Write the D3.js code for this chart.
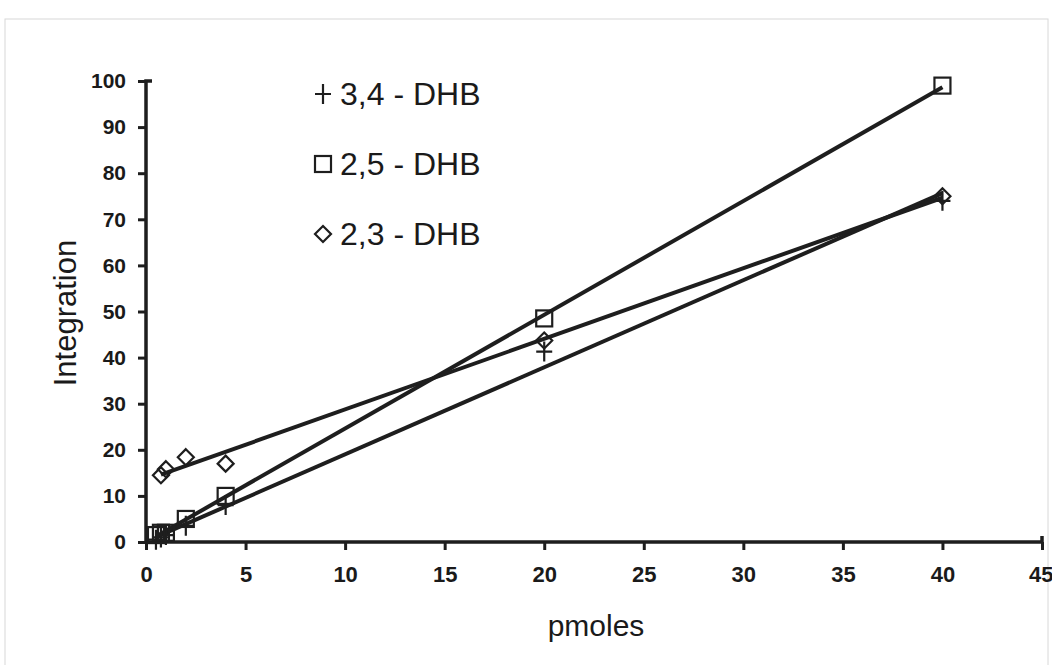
<!DOCTYPE html>
<meta charset="utf-8">
<style>
  body { margin: 0; background: #fff; }
  svg { font-family: "Liberation Sans", Arial, sans-serif; }
  .tick text { font-weight: bold; fill: #1a1a1a; }
  .fit { fill: none; stroke: #1e1e1e; stroke-width: 4; }
  .mark { fill: none; stroke: #1e1e1e; stroke-width: 2.2; }
</style>
<svg width="1052" height="665"></svg>
<script src="https://cdn.jsdelivr.net/npm/d3@7"></script>
<script>

  // pmoles vs integration
  var pmoles34 = [0.5, 0.75, 1, 2, 4, 20, 40];
  var integ34 = [0.5, 1, 1.5, 3.5, 8, 41.3, 74];

  var pmoles25 = [0.5, 0.75, 1, 2, 4, 20, 40];
  var integ25 = [1.5, 2, 2, 5, 10, 48.5, 99];

  var pmoles23 = [0.75, 1, 2, 4, 20, 40];
  var integ23 = [14.5, 15.8, 18.4, 17, 43.7, 75];

  var seriesNames = ["3,4 - DHB", "2,5 - DHB", "2,3 - DHB"];
  var xTicks = [0, 5, 10, 15, 20, 25, 30, 35, 40, 45];
  var yTicks = [0, 10, 20, 30, 40, 50, 60, 70, 80, 90, 100];

  var svg = d3.select("svg");

  // faint scan frame
  svg.append("rect")
    .attr("x", 5).attr("y", 19)
    .attr("width", 1043).attr("height", 660)
    .attr("fill", "none")
    .attr("stroke", "#d8d8d8");

  var x = d3.scaleLinear().domain([0, 45]).range([146, 1042]);
  var y = d3.scaleLinear().domain([0, 100]).range([542, 81]);

  // axes
  var xAxis = svg.append("g")
    .attr("transform", "translate(0," + y(0) + ")")
    .call(d3.axisBottom(x).tickValues(xTicks).tickSize(8).tickPadding(16));
  xAxis.selectAll("text").style("font-size", "22px");
  // last label sits right on the page edge
  xAxis.selectAll("text").filter(function (d) { return d === 45; })
    .attr("text-anchor", "end").attr("dx", 11);

  var yAxis = svg.append("g")
    .attr("transform", "translate(" + x(0) + ",0)")
    .call(d3.axisLeft(y).tickValues(yTicks).tickSize(8).tickPadding(12));
  yAxis.selectAll("text").style("font-size", "21px");

  svg.selectAll(".domain").attr("stroke", "#1e1e1e").attr("stroke-width", 3.5);
  svg.selectAll(".tick line").attr("stroke", "#1e1e1e").attr("stroke-width", 3);
  // drop the outer ends d3 adds to the domain path
  xAxis.select(".domain").attr("d", "M" + x(0) + ",0H" + x(45) + "V-6");
  yAxis.select(".domain").attr("d", "M0," + y(0) + "V" + y(100) + "H6");

  // least squares trend lines, as in the original spreadsheet chart
  function fit(xs, ys) {
    var mx = d3.mean(xs), my = d3.mean(ys);
    var sxy = d3.sum(xs, function (v, i) { return (v - mx) * (ys[i] - my); });
    var sxx = d3.sum(xs, function (v) { return (v - mx) * (v - mx); });
    var b = sxy / sxx, a = my - b * mx;
    var x0 = d3.min(xs), x1 = d3.max(xs);
    return [[x0, a + b * x0], [x1, a + b * x1]];
  }

  var line = d3.line()
    .x(function (d) { return x(d[0]); })
    .y(function (d) { return y(d[1]); });

  var series = [
    { xs: pmoles34, ys: integ34, shape: "cross" },
    { xs: pmoles25, ys: integ25, shape: "square" },
    { xs: pmoles23, ys: integ23, shape: "diamond" }
  ];

  series.forEach(function (s) {
    svg.append("path")
      .attr("class", "fit")
      .attr("d", line(fit(s.xs, s.ys)));
  });

  function marker(g, shape) {
    if (shape === "square") {
      g.append("rect").attr("class", "mark")
        .attr("x", -8).attr("y", -8).attr("width", 16).attr("height", 16);
    } else if (shape === "diamond") {
      g.append("path").attr("class", "mark")
        .attr("d", "M0,-8L8,0L0,8L-8,0Z");
    } else {
      g.append("path").attr("class", "mark")
        .attr("d", "M0,-10V10M-8,0H8");
    }
  }

  series.forEach(function (s) {
    s.xs.forEach(function (v, i) {
      var g = svg.append("g")
        .attr("transform", "translate(" + x(v) + "," + y(s.ys[i]) + ")");
      marker(g, s.shape);
    });
  });

  // legend
  var legend = svg.append("g");
  seriesNames.forEach(function (name, i) {
    var gy = 94 + i * 70;
    var g = legend.append("g").attr("transform", "translate(323," + gy + ")");
    marker(g, series[i].shape);
    g.append("text")
      .attr("x", 17).attr("y", 11)
      .style("font-size", "32px")
      .attr("fill", "#1a1a1a")
      .text(name);
  });

  // axis titles
  svg.append("text")
    .attr("transform", "translate(76,313) rotate(-90)")
    .attr("text-anchor", "middle")
    .style("font-size", "31px")
    .attr("fill", "#1a1a1a")
    .text("Integration");

  svg.append("text")
    .attr("x", 596).attr("y", 636)
    .attr("text-anchor", "middle")
    .style("font-size", "30px")
    .attr("fill", "#1a1a1a")
    .text("pmoles");

</script>
